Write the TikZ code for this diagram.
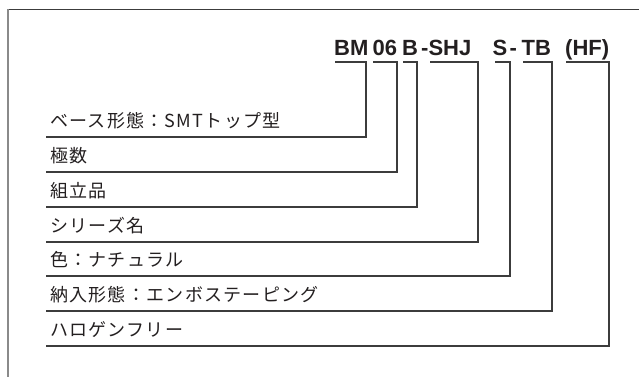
\documentclass[tikz,border=0pt]{standalone}
\usepackage{fontspec}
\newfontfamily\jpfont{Noto Sans CJK JP}[LetterSpace=7]
\newfontfamily\titlefont{Liberation Sans}
\definecolor{ink}{HTML}{231F20}
\definecolor{linec}{HTML}{3C3C3C}
\definecolor{framel}{HTML}{8A8A8A}
\begin{document}
\begin{tikzpicture}[x=1pt,y=-1pt,
  lbl/.style={anchor=base west,inner sep=0pt,text=ink,font=\jpfont\fontsize{18}{20}\selectfont},
  ttl/.style={anchor=base west,inner sep=0pt,text=ink,font=\titlefont\bfseries\fontsize{22}{24}\selectfont},
  conn/.style={draw=linec,line width=1.1pt,line join=miter},
  frm/.style={line width=1.3pt}]
\useasboundingbox (0,0) rectangle (639,376);
% frame (only top and left edges visible)
\draw[frm,draw=linec] (7,9.8) -- (645,9.8);
\draw[frm,draw=framel] (8,9.2) -- (8,380);
% title pieces
\node[ttl] (t1) at (334,55) {BM};
\node[ttl] (t2) at (372.5,55) {06};
\node[ttl] (t3) at (402,55) {B};
\node[ttl] (t4) at (421,55) {-SHJ};
\node[ttl] (t5) at (492.5,55) {S};
\node[ttl] (t5b) at (509.5,55) {-};
\node[ttl] (t6) at (521.5,55) {TB};
\node[ttl] (t7) at (565,55) {(HF)};
% labels
\node[lbl] (l1) at (50,127) {ベース形態：SMTトップ型};
\node[lbl] (l2) at (50,162) {極数};
\node[lbl] (l3) at (50,197) {組立品};
\node[lbl] (l4) at (50,232) {シリーズ名};
\node[lbl] (l5) at (50,266) {色：ナチュラル};
\node[lbl] (l6) at (50,301) {納入形態：エンボステーピング};
\node[lbl] (l7) at (50,336) {ハロゲンフリー};
% connector coordinates
\coordinate (r1) at (46,137);   \coordinate (c1) at (366,62); \coordinate (d1) at (335,62);
\coordinate (r2) at (46,172);   \coordinate (c2) at (397,62); \coordinate (d2) at (373,62);
\coordinate (r3) at (46,207);   \coordinate (c3) at (417,62); \coordinate (d3) at (403,62);
\coordinate (r4) at (46,242);   \coordinate (c4) at (478,62); \coordinate (d4) at (430,62);
\coordinate (r5) at (46,276);   \coordinate (c5) at (510,62); \coordinate (d5) at (495,62);
\coordinate (r6) at (46,311);   \coordinate (c6) at (552,62); \coordinate (d6) at (523,62);
\coordinate (r7) at (46,346);   \coordinate (c7) at (609,62); \coordinate (d7) at (566,62);
\foreach \i in {1,...,7}{
  \draw[conn] (r\i) -| (c\i) -- (d\i);
}
\end{tikzpicture}
\end{document}
